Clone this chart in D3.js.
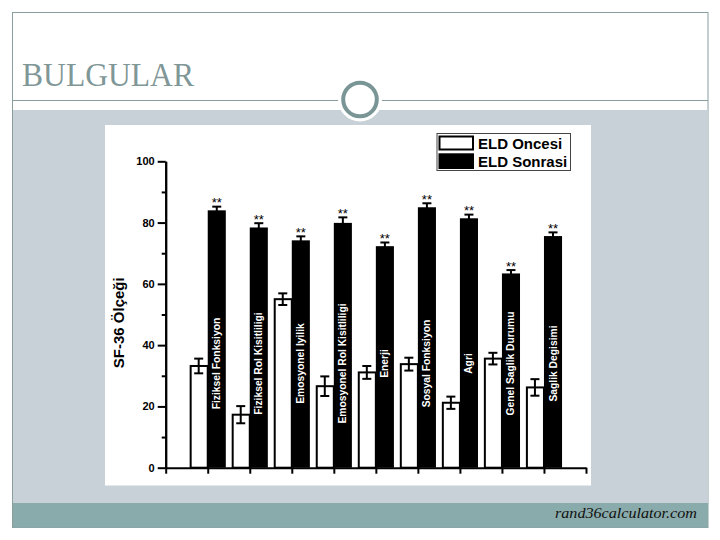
<!DOCTYPE html>
<html>
<head>
<meta charset="utf-8">
<script src="https://cdn.jsdelivr.net/npm/d3@7"></script>
<style>
  body { margin: 0; background: #fff; }
  svg { display: block; }
  .axis path, .axis line { stroke: #000; stroke-width: 2; }
  .axis text { font-family: 'Liberation Sans', Arial, sans-serif; font-weight: bold; font-size: 11px; fill: #000; }
</style>
</head>
<body>
<svg width="720" height="540"></svg>
<script>

const categories = ['Fiziksel Fonksiyon', 'Fiziksel Rol Kisitliligi', 'Emosyonel Iyilik',
  'Emosyonel Rol Kisitliligi', 'Enerji', 'Sosyal Fonksiyon', 'Agri',
  'Genel Saglik Durumu', 'Saglik Degisimi']
const oncesi = [33.2, 17.3, 55.0, 26.6, 31.1, 33.8, 21.2, 35.6, 26.2]
const oncesiErr = [2.4, 2.8, 1.9, 3.2, 2.1, 2.1, 2.0, 1.9, 2.7]
const sonrasi = [84.0, 78.4, 74.2, 79.9, 72.3, 85.0, 81.4, 63.4, 75.6]
const sonrasiErr = [1.2, 1.4, 1.3, 1.8, 1.2, 1.3, 1.2, 1.1, 1.2]
const yTicks = [0, 20, 40, 60, 80, 100]
const yMinorTicks = [10, 30, 50, 70, 90]
const seriesNames = ['ELD Oncesi', 'ELD Sonrasi']
const yTitle = 'SF-36 Ölçeği'
const slideTitle = 'BULGULAR'
const footer = 'rand36calculator.com'

const svg = d3.select('svg')
const frame = '#8a9e9e'

// slide decoration
svg.append('rect')
  .attr('x', 12.5).attr('y', 12.5).attr('width', 695.5).attr('height', 515)
  .attr('fill', '#fff').attr('stroke', frame)
svg.append('rect')
  .attr('x', 13).attr('y', 110).attr('width', 695).attr('height', 393)
  .attr('fill', '#c7d1d7')
svg.append('rect')
  .attr('x', 13).attr('y', 503).attr('width', 695).attr('height', 24.5)
  .attr('fill', '#8aabab')
svg.append('line')
  .attr('x1', 12).attr('x2', 708).attr('y1', 100.5).attr('y2', 100.5)
  .attr('stroke', frame)
svg.append('circle')
  .attr('cx', 360).attr('cy', 99.5).attr('r', 22)
  .attr('fill', '#fff')
svg.append('circle')
  .attr('cx', 360).attr('cy', 99.5).attr('r', 16.8)
  .attr('fill', '#fff').attr('stroke', '#7a9595').attr('stroke-width', 4)
svg.append('text')
  .attr('x', 22).attr('y', 86)
  .attr('textLength', 172).attr('lengthAdjust', 'spacingAndGlyphs')
  .style('font-family', "'Liberation Serif', 'Times New Roman', serif")
  .style('font-size', '33px')
  .style('fill', '#7f9797')
  .text(slideTitle)
svg.append('text')
  .attr('x', 555).attr('y', 518)
  .attr('textLength', 142).attr('lengthAdjust', 'spacingAndGlyphs')
  .style('font-family', "'Liberation Serif', 'Times New Roman', serif")
  .style('font-style', 'italic')
  .style('font-size', '15px')
  .style('fill', '#111')
  .text(footer)

// chart picture
svg.append('rect')
  .attr('x', 105).attr('y', 125).attr('width', 486).attr('height', 360.5)
  .attr('fill', '#fff')

const xScale = d3.scaleLinear()
  .domain([0, categories.length + 1])
  .range([165.7, 586])

const yScale = d3.scaleLinear()
  .domain([0, 100])
  .range([467.7, 161.3])

const bw = (xScale(1) - xScale(0)) * 0.43
const cap = 4.5

const g = svg.append('g')

const yAxis = d3.axisLeft(yScale)
  .tickValues(yTicks)
  .tickSize(8)
  .tickSizeOuter(0)
  .tickPadding(3)
const yMinor = d3.axisLeft(yScale)
  .tickValues(yMinorTicks)
  .tickSize(4)
  .tickSizeOuter(0)
  .tickFormat('')

g.append('g').attr('class', 'axis').attr('transform', `translate(${xScale(0)}, 0)`).call(yMinor)
g.append('g').attr('class', 'axis').attr('transform', `translate(${xScale(0)}, 0)`).call(yAxis)

const xAxis = d3.axisBottom(xScale)
  .ticks(categories.length + 1)
  .tickSize(6)
  .tickSizeOuter(0)
  .tickFormat('')
g.append('g').attr('class', 'axis').attr('transform', `translate(0, ${yScale(0)})`).call(xAxis)

g.append('text')
  .attr('transform', `translate(124, ${yScale(47.3)}) rotate(-90)`)
  .attr('text-anchor', 'middle')
  .style('font-family', "'Liberation Sans', Arial, sans-serif")
  .style('font-weight', 'bold')
  .style('font-size', '15px')
  .text(yTitle)

const data = categories.map((name, i) => ({
  name,
  pos: i + 1,
  before: oncesi[i],
  beforeErr: oncesiErr[i],
  after: sonrasi[i],
  afterErr: sonrasiErr[i]
}))

const group = g.selectAll('.cat')
  .data(data)
  .enter()
  .append('g')
  .attr('class', 'cat')

// ELD Oncesi (white bars)
group.append('rect')
  .attr('x', d => xScale(d.pos) - bw + 1)
  .attr('y', d => yScale(d.before))
  .attr('width', bw - 1)
  .attr('height', d => yScale(0) - yScale(d.before))
  .attr('fill', '#fff')
  .attr('stroke', '#000')
  .attr('stroke-width', 2)

// ELD Sonrasi (black bars)
group.append('rect')
  .attr('x', d => xScale(d.pos))
  .attr('y', d => yScale(d.after))
  .attr('width', bw)
  .attr('height', d => yScale(0) - yScale(d.after))
  .attr('fill', '#000')

const errorBar = (sel, cx, val, err) => {
  sel.append('line')
    .attr('x1', cx).attr('x2', cx)
    .attr('y1', d => yScale(val(d) - err(d))).attr('y2', d => yScale(val(d) + err(d)))
    .attr('stroke', '#000').attr('stroke-width', 2)
  sel.append('line')
    .attr('x1', d => cx(d) - cap).attr('x2', d => cx(d) + cap)
    .attr('y1', d => yScale(val(d) + err(d))).attr('y2', d => yScale(val(d) + err(d)))
    .attr('stroke', '#000').attr('stroke-width', 2)
  sel.append('line')
    .attr('x1', d => cx(d) - cap).attr('x2', d => cx(d) + cap)
    .attr('y1', d => yScale(val(d) - err(d))).attr('y2', d => yScale(val(d) - err(d)))
    .attr('stroke', '#000').attr('stroke-width', 2)
}

errorBar(group, d => xScale(d.pos) - bw / 2, d => d.before, d => d.beforeErr)
errorBar(group, d => xScale(d.pos) + bw / 2, d => d.after, d => d.afterErr)

group.append('text')
  .attr('x', d => xScale(d.pos) + bw / 2)
  .attr('y', d => yScale(d.after + d.afterErr) + 0.5)
  .attr('text-anchor', 'middle')
  .style('font-family', "'Liberation Sans', Arial, sans-serif")
  .style('font-size', '13px')
  .text('**')

group.append('text')
  .attr('transform', d => `translate(${xScale(d.pos) + bw / 2}, ${yScale(34)}) rotate(-90)`)
  .attr('text-anchor', 'middle')
  .attr('dominant-baseline', 'central')
  .style('font-family', "'Liberation Sans', Arial, sans-serif")
  .style('font-weight', 'bold')
  .style('font-size', '10.3px')
  .style('fill', '#fff')
  .text(d => d.name)

// legend
const legend = g.append('g')
legend.append('rect')
  .attr('x', 437).attr('y', 133.5).attr('width', 133.5).attr('height', 37)
  .attr('fill', '#fff').attr('stroke', '#444').attr('stroke-width', 1)
legend.selectAll('.swatch')
  .data(seriesNames)
  .enter()
  .append('rect')
  .attr('class', 'swatch')
  .attr('x', (d, i) => i === 0 ? 439.5 : 438.5)
  .attr('y', (d, i) => i === 0 ? 136.5 : 153.3)
  .attr('width', (d, i) => i === 0 ? 33.5 : 35.5)
  .attr('height', (d, i) => i === 0 ? 13 : 15.7)
  .attr('fill', (d, i) => i === 0 ? '#fff' : '#000')
  .attr('stroke', '#000')
  .attr('stroke-width', (d, i) => i === 0 ? 2 : 0)
legend.selectAll('.lab')
  .data(seriesNames)
  .enter()
  .append('text')
  .attr('class', 'lab')
  .attr('x', 478)
  .attr('y', (d, i) => i === 0 ? 148.5 : 166.5)
  .style('font-family', "'Liberation Sans', Arial, sans-serif")
  .style('font-weight', 'bold')
  .style('font-size', '15px')
  .text(d => d)

</script>
</body>
</html>
